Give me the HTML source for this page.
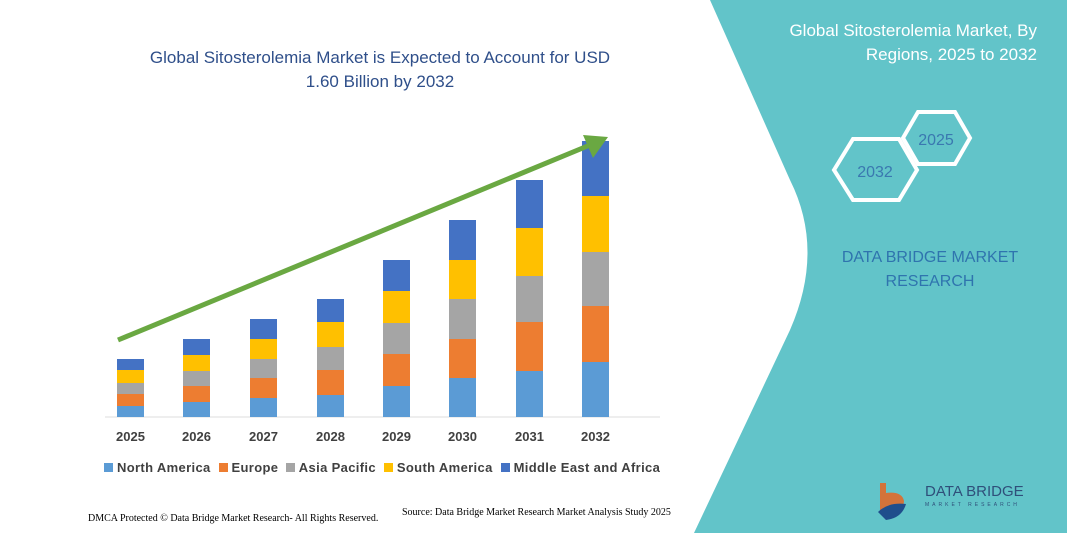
<!DOCTYPE html>
<html><head><style>
body{margin:0;width:1067px;height:533px;overflow:hidden;background:#fff;font-family:"Liberation Sans",sans-serif;position:relative}
.t{position:absolute;white-space:nowrap}
</style></head><body>
<svg width="1067" height="533" style="position:absolute;left:0;top:0">
<path d="M710,0 L1067,0 L1067,533 L694,533 L790,330 Q825,250 790,180 Z" fill="#62C4C9"/>
<g fill="none" stroke="#fff" stroke-width="4">
<polygon points="834,170 853,139 899,139 917,170 899,200 853,200"/>
<polygon points="903,138 918,112 955,112 970,138 955,164 918,164"/>
</g>
<text x="875" y="177" font-size="16" fill="#3A78B0" text-anchor="middle" font-family="Liberation Sans">2032</text>
<text x="936" y="145" font-size="16" fill="#3A78B0" text-anchor="middle" font-family="Liberation Sans">2025</text>
<line x1="105" y1="417" x2="660" y2="417" stroke="#ddd" stroke-width="1"/>
<g id="bars"></g>
<line x1="118" y1="340" x2="590" y2="145" stroke="#6AA842" stroke-width="5"/>
<polygon points="608,137 583,135 593,158" fill="#6AA842"/>
<g fill="#E06A2A"><path d="M880,483 h6 v10 q16,-2 18,8 q0,10 -14,10 h-10z" opacity="0.9"/></g>
<path d="M878,512 q10,-10 28,-8 q-4,14 -20,16 z" fill="#1F4E8C"/>
</svg>
<script>
var xs=[117,183,250,317,383,449,516,582];
var b=[[359,370,383,394,406],[339,355,371,386,402],[319,339,359,378,398],[299,322,347,370,395],[260,291,323,354,386],[220,260,299,339,378],[180,228,276,322,371],[141,196,252,306,362]];
var c=["#4472C4","#FFC000","#A5A5A5","#ED7D31","#5B9BD5"];
var s="";
for(var i=0;i<8;i++){var y=b[i].concat([417]);for(var k=0;k<5;k++){s+='<rect x="'+xs[i]+'" y="'+y[k]+'" width="27" height="'+(y[k+1]-y[k])+'" fill="'+c[k]+'"/>';}}
document.getElementById("bars").innerHTML=s;
</script>
<div class="t" style="left:130px;top:46px;width:500px;text-align:center;font-size:17px;color:#2F4F8A;line-height:24px">Global Sitosterolemia Market is Expected to Account for USD<br>1.60 Billion by 2032</div>
<div class="t" style="right:30px;top:19px;text-align:right;font-size:17px;color:#fff;line-height:24px">Global Sitosterolemia Market, By<br>Regions, 2025 to 2032</div>
<div class="t" style="left:830px;top:246px;width:200px;text-align:center;font-size:16px;color:#2F74AE;line-height:24px">DATA BRIDGE MARKET<br>RESEARCH</div>
<div class="t" style="left:0;top:429px;font-size:13px;font-weight:bold;color:#404040">
<span style="position:absolute;left:116px">2025</span><span style="position:absolute;left:182px">2026</span><span style="position:absolute;left:249px">2027</span><span style="position:absolute;left:316px">2028</span><span style="position:absolute;left:382px">2029</span><span style="position:absolute;left:448px">2030</span><span style="position:absolute;left:515px">2031</span><span style="position:absolute;left:581px">2032</span></div>
<div class="t" style="left:104px;top:460px;font-size:13px;font-weight:bold;color:#404040;letter-spacing:0.35px">
<span style="display:inline-block;width:9px;height:9px;background:#5B9BD5"></span> North America&nbsp;&nbsp;<span style="display:inline-block;width:9px;height:9px;background:#ED7D31"></span> Europe&nbsp;&nbsp;<span style="display:inline-block;width:9px;height:9px;background:#A5A5A5"></span> Asia Pacific&nbsp;&nbsp;<span style="display:inline-block;width:9px;height:9px;background:#FFC000"></span> South America&nbsp;&nbsp;<span style="display:inline-block;width:9px;height:9px;background:#4472C4"></span> Middle East and Africa</div>
<div class="t" style="left:88px;top:513px;font-size:10px;font-family:'Liberation Serif',serif;color:#000">DMCA Protected © Data Bridge Market Research- All Rights Reserved.</div>
<div class="t" style="left:402px;top:507px;font-size:10px;font-family:'Liberation Serif',serif;color:#000">Source: Data Bridge Market Research Market Analysis Study 2025</div>
<div class="t" style="left:925px;top:483px;font-size:15px;color:#2F4F7A">DATA BRIDGE</div>
<div class="t" style="left:925px;top:502px;font-size:5px;letter-spacing:3px;color:#2F4F7A">MARKET RESEARCH</div>
</body></html>
